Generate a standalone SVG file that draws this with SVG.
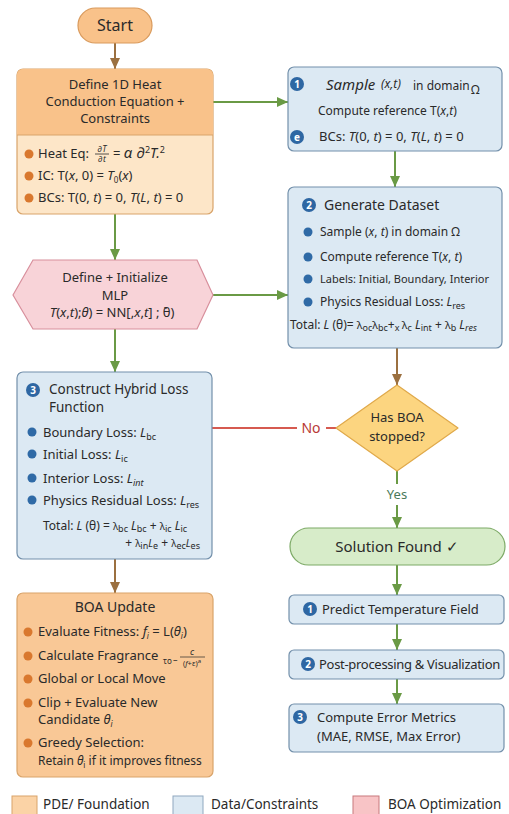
<svg xmlns="http://www.w3.org/2000/svg" width="509" height="814" viewBox="0 0 509 814">
<style>
text{font-family:"Noto Sans","Open Sans","Liberation Sans",sans-serif;fill:#2a2a2a}
.t13{font-size:13px}
.t12{font-size:12px}
.t14{font-size:14px}
.c{text-anchor:middle}
.i{font-style:italic}
.sub{font-size:9px}
.lam{font-size:11px}
.orange{fill:#fde6c8;stroke:#d9a46a;stroke-width:1.2}
.blue{fill:#dce9f3;stroke:#7390ab;stroke-width:1.2}
.ob{fill:#d9782e}
.bb{fill:#2f6aa6}
.badge{fill:#2e67a3}
.bt{fill:#fff;font-size:10px;font-weight:bold;text-anchor:middle}
.g{stroke:#6a9a45;stroke-width:2;fill:none}
.br{stroke:#9b7040;stroke-width:2;fill:none}
.r{stroke:#d65a50;stroke-width:2;fill:none}
</style>
<defs>
<marker id="ag" markerUnits="userSpaceOnUse" markerWidth="12" markerHeight="12" refX="11" refY="6" orient="auto"><path d="M0,1 L11,6 L0,11 Z" fill="#6a9a45"/></marker>
<marker id="ab" markerUnits="userSpaceOnUse" markerWidth="12" markerHeight="12" refX="11" refY="6" orient="auto"><path d="M0,1 L11,6 L0,11 Z" fill="#9b7040"/></marker>
</defs>
<rect width="509" height="814" fill="#ffffff"/>

<g id="connectors">
<path class="br" d="M115 43 V69" marker-end="url(#ab)"/>
<path class="g" d="M213 102 H288" marker-end="url(#ag)"/>
<path class="g" d="M395 151 V187" marker-end="url(#ag)"/>
<path class="g" d="M115 214 V260" marker-end="url(#ag)"/>
<path class="g" d="M213 295 H288" marker-end="url(#ag)"/>
<path class="g" d="M115 329 V372" marker-end="url(#ag)"/>
<path class="br" d="M397 348 V385" marker-end="url(#ab)"/>
<path class="r" d="M336 428 H326 M297 428 H212"/>
<text x="311" y="433" class="t14 c" style="fill:#b83a36">No</text>
<path class="g" d="M397 471 V484 M397 505 V528" marker-end="url(#ag)"/>
<text x="397" y="499" class="t13 c" style="fill:#4a7a5a">Yes</text>
<path class="br" d="M115 559 V593" marker-end="url(#ab)"/>
<path class="g" d="M397 565 V595" marker-end="url(#ag)"/>
<path class="g" d="M397 624 V650" marker-end="url(#ag)"/>
<path class="g" d="M397 679 V704" marker-end="url(#ag)"/>
</g>

<g id="start">
<rect x="78" y="8" width="74" height="35" rx="17.5" fill="#f9c28a" stroke="#d99a5c" stroke-width="1.2"/>
<text x="115" y="31" class="c" style="font-size:16px">Start</text>
</g>

<g id="define-equation">
<rect x="17" y="69" width="196" height="145" rx="6" class="orange"/>
<path d="M17 135 V75 A6 6 0 0 1 23 69 H207 A6 6 0 0 1 213 75 V135 Z" fill="#f9c28a"/>
<path d="M17 135 H213" stroke="#d9a46a" stroke-width="1"/>
<text x="115" y="89" class="t13 c">Define 1D Heat</text>
<text x="115" y="106" class="t13 c">Conduction Equation +</text>
<text x="115" y="123" class="t13 c">Constraints</text>
<circle cx="29" cy="154" r="4.5" class="ob"/>
<text x="38" y="158" class="t13">Heat Eq:</text>
<text x="102" y="152" class="c i" style="font-size:8.5px">∂T</text>
<path d="M95 154 H109" stroke="#2a2a2a" stroke-width="0.8"/>
<text x="102" y="162" class="c i" style="font-size:8.5px">∂t</text>
<text x="113" y="158" class="t13">= <tspan class="i" style="font-size:15px">α ∂</tspan><tspan dy="-5" style="font-size:9px">2</tspan><tspan dy="5" class="i" style="font-size:14px">T.</tspan><tspan dy="-5" style="font-size:9px">2</tspan></text>
<circle cx="29" cy="176" r="4.5" class="ob"/>
<text x="38" y="180" class="t13">IC: T(<tspan class="i">x</tspan>, 0) = <tspan class="i">T</tspan><tspan dy="3" style="font-size:8px">0</tspan><tspan dy="-3">(</tspan><tspan class="i">x</tspan>)</text>
<circle cx="29" cy="198" r="4.5" class="ob"/>
<text x="38" y="202" class="t13">BCs: T(0, <tspan class="i">t</tspan>) = 0, <tspan class="i">T</tspan>(<tspan class="i">L</tspan>, <tspan class="i">t</tspan>) = 0</text>
</g>

<g id="sample-box">
<rect x="288" y="67" width="214" height="84" rx="6" class="blue"/>
<circle cx="297" cy="84" r="7" class="badge"/>
<text x="297" y="88" class="bt">1</text>
<text x="326" y="90" class="i" style="font-size:15px">Sample</text>
<text x="381" y="88" class="i" style="font-size:12px">(x,t)</text>
<text x="413" y="90" class="t12">in domain</text>
<text x="471" y="94" class="t12">Ω</text>
<text x="318" y="115" class="t12">Compute reference T(<tspan class="i">x</tspan>,<tspan class="i">t</tspan>)</text>
<circle cx="297" cy="137" r="7" class="badge"/>
<text x="297" y="141" class="bt">e</text>
<text x="319" y="141" class="t13">BCs:  <tspan class="i">T</tspan>(0, <tspan class="i">t</tspan>) = 0, <tspan class="i">T</tspan>(<tspan class="i">L</tspan>, <tspan class="i">t</tspan>) = 0</text>
</g>

<g id="generate-dataset">
<rect x="288" y="187" width="214" height="161" rx="6" class="blue"/>
<circle cx="309" cy="205" r="7" class="badge"/>
<text x="309" y="209" class="bt">2</text>
<text x="324" y="210" class="t14">Generate Dataset</text>
<circle cx="308" cy="232" r="4.5" class="bb"/>
<text x="320" y="236" class="t12">Sample (<tspan class="i">x</tspan>, <tspan class="i">t</tspan>) in domain Ω</text>
<circle cx="308" cy="257" r="4.5" class="bb"/>
<text x="320" y="261" class="t12">Compute reference T(<tspan class="i">x</tspan>, <tspan class="i">t</tspan>)</text>
<circle cx="308" cy="279" r="4.5" class="bb"/>
<text x="320" y="283" style="font-size:11px">Labels: Initial, Boundary, Interior</text>
<circle cx="308" cy="302" r="4.5" class="bb"/>
<text x="320" y="306" class="t12">Physics Residual Loss: <tspan class="i">L</tspan><tspan dy="3" style="font-size:9px">res</tspan></text>
<text x="290" y="329" class="t12">Total: <tspan class="i">L</tspan> (θ)= <tspan class="lam">λ</tspan><tspan dy="2" class="sub">oc</tspan><tspan dy="-2" class="lam">λ</tspan><tspan dy="2" class="sub">bc</tspan><tspan dy="-2">+</tspan><tspan dy="2" class="sub">x </tspan><tspan dy="-2" class="lam">λ</tspan><tspan dy="2" class="sub">c</tspan><tspan dy="-2" class="i"> L</tspan><tspan dy="2" class="sub">int</tspan><tspan dy="-2"> + </tspan><tspan class="lam">λ</tspan><tspan dy="2" class="sub">b</tspan><tspan dy="-2" class="i"> L</tspan><tspan dy="2" class="sub i">res</tspan></text>
</g>

<g id="define-mlp">
<polygon points="13,295 33,260 197,260 213,295 197,329 33,329" fill="#f8d3d8" stroke="#d88f9c" stroke-width="1.2"/>
<text x="115" y="282" class="t13 c">Define + Initialize</text>
<text x="115" y="300" class="t13 c">MLP</text>
<text x="112" y="317" class="t13 c"><tspan class="i">T</tspan>(<tspan class="i">x</tspan>,<tspan class="i">t</tspan>);<tspan class="i">θ</tspan>) = NN[,<tspan class="i">x</tspan>,<tspan class="i">t</tspan>] ; θ̀)</text>
</g>

<g id="hybrid-loss">
<rect x="17" y="372" width="195" height="187" rx="6" class="blue"/>
<circle cx="33" cy="390" r="7" class="badge"/>
<text x="33" y="394" class="bt">3</text>
<text x="49" y="394" style="font-size:13.5px">Construct Hybrid Loss</text>
<text x="49" y="412" style="font-size:13.5px">Function</text>
<circle cx="32" cy="432" r="4.5" class="bb"/>
<text x="43" y="437" class="t13">Boundary Loss:  <tspan class="i">L</tspan><tspan dy="3" style="font-size:9px">bc</tspan></text>
<circle cx="32" cy="454" r="4.5" class="bb"/>
<text x="43" y="459" class="t13">Initial Loss:  <tspan class="i">L</tspan><tspan dy="3" style="font-size:9px">ic</tspan></text>
<circle cx="32" cy="478" r="4.5" class="bb"/>
<text x="43" y="483" class="t13">Interior Loss:  <tspan class="i">L</tspan><tspan dy="3" class="i" style="font-size:9px">int</tspan></text>
<circle cx="32" cy="500" r="4.5" class="bb"/>
<text x="43" y="505" class="t13">Physics Residual Loss: <tspan class="i">L</tspan><tspan dy="3" style="font-size:9px">res</tspan></text>
<text x="43" y="530" class="t12">Total: <tspan class="i">L</tspan> (θ) = <tspan style="font-size:10px">λ</tspan><tspan dy="2" class="sub">bc</tspan><tspan dy="-2" class="i"> L</tspan><tspan dy="2" class="sub">bc</tspan><tspan dy="-2"> + </tspan><tspan style="font-size:10px">λ</tspan><tspan dy="2" class="sub">ic</tspan><tspan dy="-2" class="i"> L</tspan><tspan dy="2" class="sub">ic</tspan></text>
<text x="200" y="547" class="t12" style="text-anchor:end">+ <tspan style="font-size:10px">λ</tspan><tspan dy="2" class="sub">in</tspan><tspan dy="-2" class="i" style="font-size:10px">L</tspan><tspan dy="2" class="sub">e</tspan><tspan dy="-2"> + </tspan><tspan style="font-size:10px">λ</tspan><tspan dy="2" class="sub">ec</tspan><tspan dy="-2" class="i" style="font-size:10px">L</tspan><tspan dy="2" class="sub">es</tspan></text>
</g>

<g id="has-boa-stopped">
<polygon points="397,385 458,428 397,471 336,428" fill="#fcd580" stroke="#e0a94a" stroke-width="1.2" stroke-linejoin="round"/>
<text x="397" y="422" class="t13 c">Has BOA</text>
<text x="397" y="441" class="t13 c">stopped?</text>
</g>

<g id="solution-found">
<rect x="290" y="528" width="215" height="37" rx="18.5" fill="#d7ecc9" stroke="#7daa66" stroke-width="1.2"/>
<text x="397" y="552" class="c" style="font-size:15px">Solution Found ✓</text>
</g>

<g id="boa-update">
<rect x="17" y="593" width="196" height="184" rx="6" fill="#f9c896" stroke="#d9a46a" stroke-width="1.2"/>
<text x="115" y="612" class="t14 c">BOA Update</text>
<circle cx="28" cy="632" r="4.5" class="ob"/>
<text x="38" y="636" class="t13">Evaluate Fitness: <tspan class="i">f</tspan><tspan dy="3" class="i" style="font-size:8px">i</tspan><tspan dy="-3"> = L(</tspan><tspan class="i">θ</tspan><tspan dy="3" class="i" style="font-size:8px">i</tspan><tspan dy="-3">)</tspan></text>
<circle cx="28" cy="656" r="4.5" class="ob"/>
<text x="38" y="660" class="t13">Calculate Fragrance</text>
<text x="163" y="664" style="font-size:8px">τo</text>
<text x="173" y="663" style="font-size:9px">–</text>
<text x="192" y="655" class="c i" style="font-size:9px">c</text>
<path d="M180 657 H205" stroke="#2a2a2a" stroke-width="0.7"/>
<text x="192" y="666" class="c" style="font-size:7.5px">(<tspan class="i">f</tspan>+ε)<tspan dy="-3" style="font-size:6px">a</tspan></text>
<circle cx="28" cy="679" r="4.5" class="ob"/>
<text x="38" y="683" class="t13">Global or Local Move</text>
<circle cx="28" cy="703" r="4.5" class="ob"/>
<text x="38" y="707" class="t13">Clip + Evaluate New</text>
<text x="38" y="724" class="t13">Candidate <tspan class="i">θ</tspan><tspan dy="3" class="i" style="font-size:8px">i</tspan></text>
<circle cx="28" cy="743" r="4.5" class="ob"/>
<text x="38" y="747" class="t13">Greedy Selection:</text>
<text x="38" y="765" class="t12">Retain <tspan class="i">θ</tspan><tspan dy="3" style="font-size:8px">i</tspan><tspan dy="-3"> if it improves fitness</tspan></text>
</g>

<g id="predict">
<rect x="289" y="595" width="215" height="29" rx="5" class="blue"/>
<circle cx="310" cy="609" r="7" class="badge"/>
<text x="310" y="613" class="bt">1</text>
<text x="322" y="614" class="t13">Predict Temperature Field</text>
</g>

<g id="postprocess">
<rect x="289" y="650" width="215" height="29" rx="5" class="blue"/>
<circle cx="308" cy="664" r="7" class="badge"/>
<text x="308" y="668" class="bt">2</text>
<text x="319" y="669" class="t13" style="letter-spacing:-0.3px">Post-processing &amp; Visualization</text>
</g>

<g id="error-metrics">
<rect x="289" y="704" width="215" height="48" rx="5" class="blue"/>
<circle cx="300" cy="717" r="7" class="badge"/>
<text x="300" y="721" class="bt">3</text>
<text x="317" y="722" class="t13">Compute Error Metrics</text>
<text x="317" y="741" class="t13">(MAE, RMSE, Max Error)</text>
</g>

<g id="legend">
<rect x="12" y="796" width="25" height="24" fill="#fbd3a6" stroke="#d9a46a" stroke-width="1"/>
<text x="43" y="809" style="font-size:13.5px">PDE/ Foundation</text>
<rect x="173" y="796" width="30" height="24" fill="#dce9f3" stroke="#8fa8bf" stroke-width="1"/>
<text x="211" y="809" style="font-size:13.5px">Data/Constraints</text>
<rect x="353" y="796" width="26" height="24" fill="#f8c4c6" stroke="#c8787c" stroke-width="1"/>
<text x="388" y="809" style="font-size:13.5px">BOA Optimization</text>
</g>
</svg>
